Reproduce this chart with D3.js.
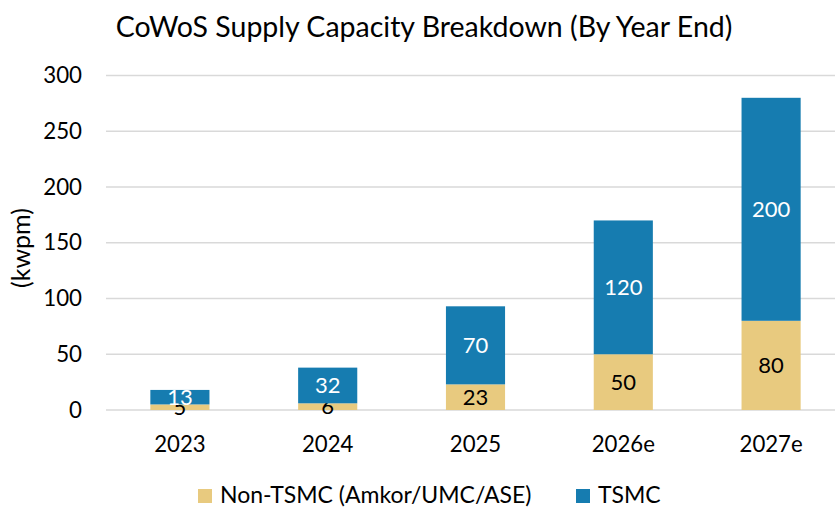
<!DOCTYPE html>
<html><head><meta charset="utf-8">
<script src="https://cdn.jsdelivr.net/npm/d3@7"></script>
<style>body{margin:0;background:#fff}svg{display:block}text{font-family:Lato,"Open Sans",sans-serif}</style>
</head><body><svg id="c" width="835" height="507"></svg>
<script>
const categories = ["2023","2024","2025","2026e","2027e"];
const nonTsmc = [5, 6, 23, 50, 80];
const tsmc = [13, 32, 70, 120, 200];
const seriesNames = ["Non-TSMC (Amkor/UMC/ASE)", "TSMC"];
const yTicks = [0, 50, 100, 150, 200, 250, 300];
const colors = ["#E8CA7F", "#167CB0"];
const labelColors = ["#000", "#fff"];

(function () {
const svg = d3.select("#c");
const pLeft = 106, pRight = 845, pTop = 75.5, pBottom = 410;
const x = d3.scaleBand().domain(categories).range([pLeft, pRight]).paddingInner(0.6).paddingOuter(0.3);
const y = d3.scaleLinear().domain([0, 300]).range([pBottom, pTop]);

svg.append("text").attr("x", 424).attr("y", 37).attr("text-anchor", "middle")
  .attr("font-size", 28.5).attr("fill", "#000").text("CoWoS Supply Capacity Breakdown (By Year End)");

svg.append("g").selectAll("line").data(yTicks).join("line")
  .attr("x1", pLeft).attr("x2", 835).attr("y1", d => y(d)).attr("y2", d => y(d))
  .attr("stroke", "#d9d9d9").attr("stroke-width", 1.3);

const yAxis = svg.append("g").attr("transform", `translate(${pLeft},0)`)
  .call(d3.axisLeft(y).tickValues(yTicks).tickSize(0).tickPadding(24));
yAxis.select(".domain").remove();
yAxis.selectAll("text").attr("font-size", 22.3).attr("fill", "#000").style("font-family", "Lato");

svg.append("text").attr("transform", "translate(30,248) rotate(-90)").attr("text-anchor", "middle")
  .attr("font-size", 25).attr("fill", "#000").text("(kwpm)");

const xAxis = svg.append("g").attr("transform", `translate(0,${pBottom})`)
  .call(d3.axisBottom(x).tickSize(0).tickPadding(26.4));
xAxis.select(".domain").remove();
xAxis.selectAll("text").attr("font-size", 22.2).attr("fill", "#000").style("font-family", "Lato");

const data = categories.map((c, i) => ({cat: c, s0: nonTsmc[i], s1: tsmc[i]}));
const stack = d3.stack().keys(["s0", "s1"])(data);

stack.forEach((layer, li) => {
  const g = svg.append("g");
  g.selectAll("rect").data(layer).join("rect")
    .attr("x", d => x(d.data.cat)).attr("width", x.bandwidth())
    .attr("y", d => y(d[1])).attr("height", d => y(d[0]) - y(d[1]))
    .attr("fill", colors[li]);
  g.selectAll("text").data(layer).join("text")
    .attr("x", d => x(d.data.cat) + x.bandwidth() / 2)
    .attr("y", d => (y(d[0]) + y(d[1])) / 2).attr("dy", "0.35em")
    .attr("text-anchor", "middle").attr("font-size", 22).attr("fill", labelColors[li])
    .text(d => d[1] - d[0]);
});

const legX = [198, 576];
const lg = svg.append("g");
seriesNames.forEach((n, i) => {
  lg.append("rect").attr("x", legX[i]).attr("y", 489).attr("width", 14).attr("height", 14).attr("fill", colors[i]);
  lg.append("text").attr("x", legX[i] + 22).attr("y", 503)
    .attr("font-size", 23).attr("fill", "#000").text(n);
});
})();
</script></body></html>
